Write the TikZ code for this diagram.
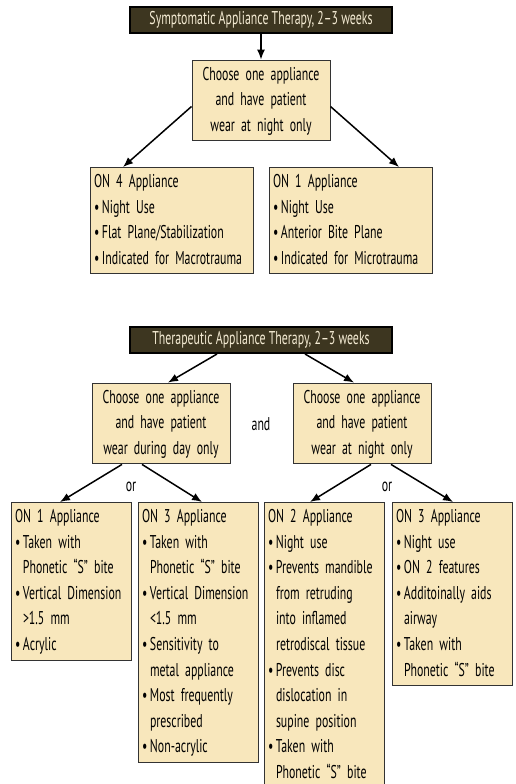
\documentclass[tikz,border=0pt]{standalone}
\usepackage{fontspec}
\setmainfont{PT Sans}[FakeStretch=0.64]
\usetikzlibrary{arrows.meta}

\definecolor{boxfill}{HTML}{F8E7BC}
\definecolor{boxline}{HTML}{333333}
\definecolor{titlefill}{HTML}{3D3620}
\definecolor{titletext}{HTML}{F4EBD3}

% condensed text, tight word spaces, no hyphens
\newcommand{\boxfont}{\fontsize{18.5}{25.6}\selectfont
  \fontdimen2\font=3.2pt\relax\hyphenpenalty=10000\relax}
% bullet line with hanging indent
\newcommand{\itm}[1]{\par\hangindent=8pt\hangafter=1\noindent\makebox[8pt][l]{\textbullet}#1\par}

\tikzset{
  txt/.style={font=\boxfont},
  titlebox/.style={txt, draw=black, line width=2pt, fill=titlefill, text=titletext,
    minimum height=26pt, inner xsep=6pt, inner ysep=0pt},
  choosebox/.style={txt, draw=boxline, line width=1pt, fill=boxfill, align=center,
    text width=132pt, inner xsep=3pt, inner ysep=2pt},
  listbox/.style={txt, draw=boxline, line width=1pt, fill=boxfill, align=left,
    anchor=north west, inner xsep=3.5pt, inner ysep=2pt},
  link/.style={line width=1.5pt, -{Latex[length=10pt,width=8pt]}},
}

\begin{document}
\begin{tikzpicture}[x=1pt, y=-1pt]
\useasboundingbox (0,0) rectangle (515,784);

% ---- symptomatic part
\node[titlebox, minimum width=262pt] (symp) at (261,20) {Symptomatic Appliance Therapy, 2--3 weeks};
\node[choosebox] (night1) at (261,100.5) {\strut Choose one appliance\\and have patient\\wear at night only\strut};

\node[listbox, text width=156pt] (onfour) at (90,167) {\strut ON 4 Appliance
  \itm{Night Use}
  \itm{Flat Plane/Stabilization}
  \itm{Indicated for Macrotrauma\strut}};
\node[listbox, text width=156pt] (onone) at (269,167) {\strut ON 1 Appliance
  \itm{Night Use}
  \itm{Anterior Bite Plane}
  \itm{Indicated for Microtrauma\strut}};

\draw[link] (symp.south) -- (night1.north);
\draw[link] ([yshift=-6pt]night1.west) -- ([xshift=33pt]onfour.north west);
\draw[link] ([yshift=-6pt]night1.east) -- ([xshift=130pt]onone.north west);

% ---- therapeutic part
\node[titlebox, minimum width=262pt] (ther) at (261,340) {Therapeutic Appliance Therapy, 2--3 weeks};
\node[choosebox] (day) at (161,423.5) {\strut Choose one appliance\\and have patient\\wear during day only\strut};
\node[choosebox] (night2) at (362,423.5) {\strut Choose one appliance\\and have patient\\wear at night only\strut};
\node[txt] (and) at (261,424) {and};

\node[listbox, text width=113pt] (dayone) at (11,502) {\strut ON 1 Appliance
  \itm{Taken with\newline Phonetic ``S'' bite}
  \itm{Vertical Dimension\newline >1.5 mm}
  \itm{Acrylic\strut}};
\node[listbox, text width=113pt] (daythree) at (138,502) {\strut ON 3 Appliance
  \itm{Taken with\newline Phonetic ``S'' bite}
  \itm{Vertical Dimension\newline <1.5 mm}
  \itm{Sensitivity to\newline metal appliance}
  \itm{Most frequently\newline prescribed}
  \itm{Non-acrylic\strut}};
\node[listbox, text width=113pt] (nighttwo) at (264,502) {\strut ON 2 Appliance
  \itm{Night use}
  \itm{Prevents mandible\newline from retruding\newline into inflamed\newline retrodiscal tissue}
  \itm{Prevents disc\newline dislocation in\newline supine position}
  \itm{Taken with\newline Phonetic ``S'' bite\strut}};
\node[listbox, text width=113pt] (nightthree) at (392,502) {\strut ON 3 Appliance
  \itm{Night use}
  \itm{ON 2 features}
  \itm{Additoinally aids\newline airway}
  \itm{Taken with\newline Phonetic ``S'' bite\strut}};

\node[txt] (orday) at (131,487) {or};
\node[txt] (ornight) at (387,487) {or};

\draw[link] ([xshift=-44pt]ther.south) -- ([xshift=7pt]day.north);
\draw[link] ([xshift=44pt]ther.south) -- ([xshift=-8pt]night2.north);
\draw[link] ([xshift=-39pt]day.south) -- ([xshift=49pt]dayone.north west);
\draw[link] ([xshift=-19pt]day.south) -- ([xshift=64pt]daythree.north west);
\draw[link] ([xshift=9pt]night2.south) -- ([xshift=46pt]nighttwo.north west);
\draw[link] ([xshift=29pt]night2.south) -- ([xshift=61pt]nightthree.north west);

\end{tikzpicture}
\end{document}
